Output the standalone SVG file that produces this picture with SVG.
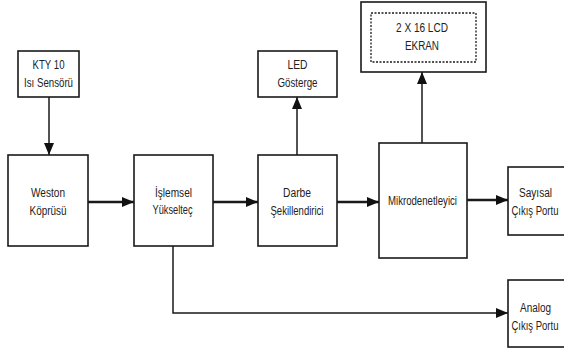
<svg xmlns="http://www.w3.org/2000/svg" width="564" height="354" viewBox="0 0 564 354">
<style>
.box{fill:#fff;stroke:#1a1a1a;stroke-width:1.6}
.dash{fill:none;stroke:#1a1a1a;stroke-width:1.3;stroke-dasharray:2,1.5}
.t{font-family:"Liberation Sans",Arial,sans-serif;font-size:12.5px;fill:#222;text-anchor:middle}
.c{fill:none;stroke:#1a1a1a}
.h{stroke-width:2.4}
.v{stroke-width:1.5}
</style>
<defs>
<marker id="ah" markerUnits="userSpaceOnUse" markerWidth="12" markerHeight="10" refX="12" refY="5" orient="auto">
<path d="M0,0 L12,5 L0,10 Z" fill="#111"/>
</marker>
</defs>
<rect width="564" height="354" fill="#fff"/>
<g id="connectors">
<path class="c v" d="M49,97 V155" marker-end="url(#ah)"/>
<path class="c h" d="M88,202 H134" marker-end="url(#ah)"/>
<path class="c h" d="M213,202 H258" marker-end="url(#ah)"/>
<path class="c h" d="M337,202 H379" marker-end="url(#ah)"/>
<path class="c h" d="M467,200 H508" marker-end="url(#ah)"/>
<path class="c v" d="M297,155 V97" marker-end="url(#ah)"/>
<path class="c v" d="M422,143 V72" marker-end="url(#ah)"/>
<path class="c v" d="M173,246 V313 H508" marker-end="url(#ah)"/>
</g>
<g id="kty">
<rect class="box" x="18" y="51" width="61" height="46"/>
<text class="t" x="48.5" y="69" textLength="32" lengthAdjust="spacingAndGlyphs">KTY 10</text>
<text class="t" x="48.5" y="87" textLength="49" lengthAdjust="spacingAndGlyphs">Isı Sensörü</text>
</g>
<g id="weston">
<rect class="box" x="8" y="155" width="80" height="91"/>
<text class="t" x="48" y="197" textLength="34" lengthAdjust="spacingAndGlyphs">Weston</text>
<text class="t" x="48" y="215" textLength="37" lengthAdjust="spacingAndGlyphs">Köprüsü</text>
</g>
<g id="islemsel">
<rect class="box" x="134" y="155" width="79" height="91"/>
<text class="t" x="173.5" y="197" textLength="37" lengthAdjust="spacingAndGlyphs">İşlemsel</text>
<text class="t" x="172.5" y="214" textLength="40" lengthAdjust="spacingAndGlyphs">Yükselteç</text>
</g>
<g id="darbe">
<rect class="box" x="258" y="155" width="79" height="91"/>
<text class="t" x="297" y="197" textLength="28" lengthAdjust="spacingAndGlyphs">Darbe</text>
<text class="t" x="297" y="215" textLength="53" lengthAdjust="spacingAndGlyphs">Şekillendirici</text>
</g>
<g id="led">
<rect class="box" x="258" y="51" width="79" height="46"/>
<text class="t" x="297.5" y="69" textLength="20" lengthAdjust="spacingAndGlyphs">LED</text>
<text class="t" x="297.5" y="87" textLength="40" lengthAdjust="spacingAndGlyphs">Gösterge</text>
</g>
<g id="lcd">
<rect class="box" x="361" y="2" width="125" height="70"/>
<rect class="dash" x="371" y="13" width="105" height="49"/>
<text class="t" x="422" y="32" textLength="52" lengthAdjust="spacingAndGlyphs">2 X 16 LCD</text>
<text class="t" x="422" y="50" textLength="34" lengthAdjust="spacingAndGlyphs">EKRAN</text>
</g>
<g id="mikro">
<rect class="box" x="379" y="143" width="88" height="115"/>
<text class="t" x="422.5" y="205" textLength="69" lengthAdjust="spacingAndGlyphs">Mikrodenetleyici</text>
</g>
<g id="sayisal">
<rect class="box" x="508" y="167" width="60" height="68"/>
<text class="t" x="535.5" y="197" textLength="33" lengthAdjust="spacingAndGlyphs">Sayısal</text>
<text class="t" transform="scale(0.76 1)" x="703.9" y="215">Çıkış Portu</text>
</g>
<g id="analog">
<rect class="box" x="508" y="280" width="60" height="67"/>
<text class="t" x="535.5" y="312" textLength="31" lengthAdjust="spacingAndGlyphs">Analog</text>
<text class="t" transform="scale(0.76 1)" x="703.9" y="330">Çıkış Portu</text>
</g>
</svg>
